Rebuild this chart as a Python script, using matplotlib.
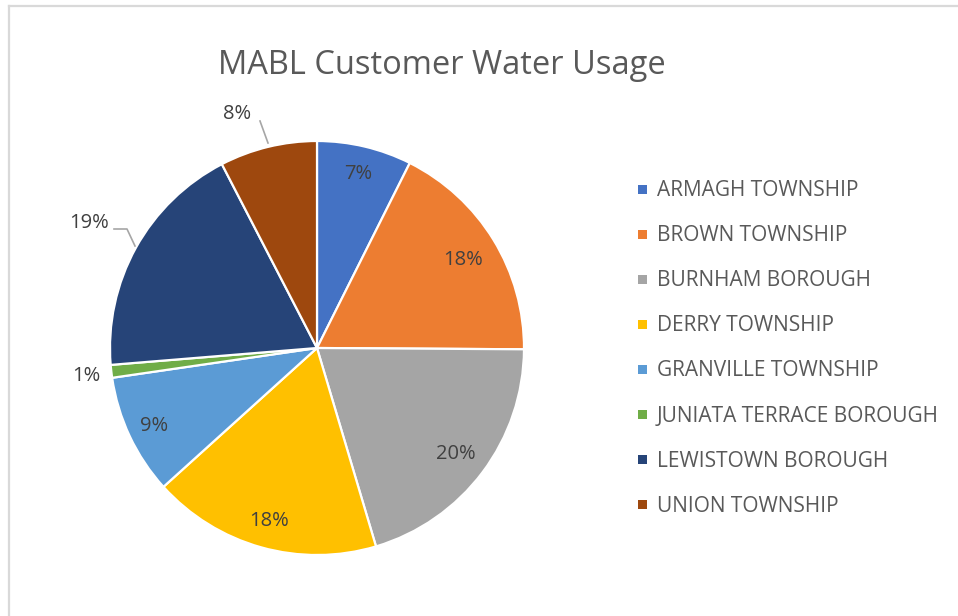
import numpy as np
import matplotlib
matplotlib.use("Agg")
import matplotlib.pyplot as plt
from matplotlib.patches import Rectangle
from matplotlib.lines import Line2D
from matplotlib.transforms import offset_copy

# ---- data ----
categories = ["ARMAGH TOWNSHIP", "BROWN TOWNSHIP", "BURNHAM BOROUGH", "DERRY TOWNSHIP",
              "GRANVILLE TOWNSHIP", "JUNIATA TERRACE BOROUGH", "LEWISTOWN BOROUGH", "UNION TOWNSHIP"]
usage_pct = [7.4, 17.7, 20.3, 17.9, 9.4, 1.0, 18.7, 7.6]
colors = ["#4472C4", "#ED7D31", "#A5A5A5", "#FFC000", "#5B9BD5", "#70AD47", "#264478", "#9E480E"]
title = "MABL Customer Water Usage"

# label placement (radius factor, angle offset in degrees)
label_r = [0.87, 0.83, 0.84, 0.86, 0.87, 1.12, 1.26, 1.20]
label_da = [0, 0, 0, 0, 0, 0, 0, -5]

FONT = "Open Sans"
W, H = 958, 616
fig = plt.figure(figsize=(W / 100, H / 100), dpi=100)

# chart border
fig.add_artist(Line2D([9 / W, 9 / W], [0, 1 - 6 / H], transform=fig.transFigure,
                      color="#d9d9d9", lw=1.6))
fig.add_artist(Line2D([9 / W, 1], [1 - 6 / H, 1 - 6 / H], transform=fig.transFigure,
                      color="#d9d9d9", lw=1.6))

cx, cy, R = 317, 348, 207
ax = fig.add_axes([(cx - R) / W, (H - cy - R) / H, 2 * R / W, 2 * R / H])
wedges, _ = ax.pie(usage_pct, colors=colors, startangle=90, counterclock=False, radius=1.0,
                   wedgeprops=dict(edgecolor="white", linewidth=1.6))
ax.set_xlim(-1, 1)
ax.set_ylim(-1, 1)
ax.set_aspect("equal")
ax.axis("off")

text_tr = offset_copy(ax.transData, fig=fig, x=0, y=-1.5, units="dots")
total = sum(usage_pct)
cum = 0.0
for i, v in enumerate(usage_pct):
    mid = (cum + v / 2) / total
    cum += v
    ang = np.deg2rad(90 - 360 * mid - label_da[i])
    r = label_r[i]
    x, y = r * np.cos(ang), r * np.sin(ang)
    ax.text(x, y, f"{v:.0f}%", ha="center", va="center", fontsize=14.5,
            color="#404040", family=FONT, clip_on=False, transform=text_tr)

# leader lines (in axes data coords, from pixel estimates)
def px(xp, yp):
    return ((xp - cx) / R, (cy - yp) / R)

for pts in ([(114, 229), (127, 229), (135, 246)], [(260, 121), (268, 143)]):
    xy = [px(*p) for p in pts]
    ax.plot([p[0] for p in xy], [p[1] for p in xy], color="#a6a6a6", lw=1.2, clip_on=False)

fig.text(442 / W, 1 - 65 / H, title, ha="center", va="center", fontsize=23.5,
         color="#595959", family=FONT)

# legend
for i, lab in enumerate(categories):
    yc = 189 + 45.1 * i
    fig.add_artist(Rectangle((638 / W, 1 - (yc + 4.5) / H), 9 / W, 9 / H,
                             transform=fig.transFigure, facecolor=colors[i], edgecolor="none"))
    fig.text(657 / W, 1 - (yc + 1.5) / H, lab, ha="left", va="center", fontsize=15,
             color="#595959", family=FONT)

fig.savefig("out.png", dpi=100)
